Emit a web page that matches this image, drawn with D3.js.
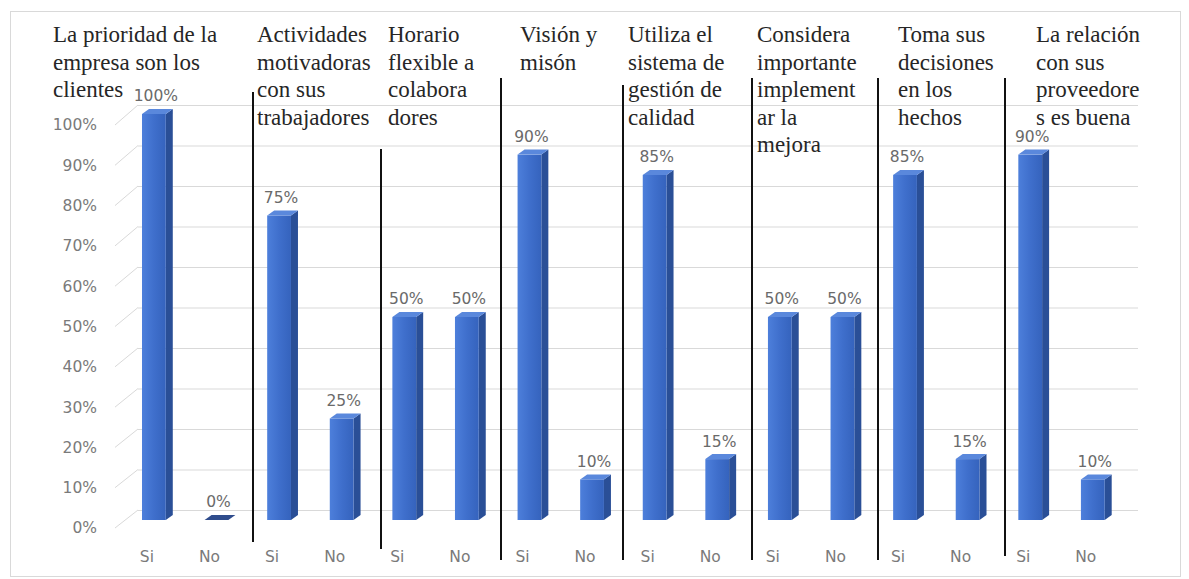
<!DOCTYPE html>
<html>
<head>
<meta charset="utf-8">
<script src="https://cdn.jsdelivr.net/npm/d3@7"></script>
<style>
  html, body { margin: 0; padding: 0; background: #fff; }
  svg { display: block; }
</style>
</head>
<body>
<svg id="chart" width="1189" height="579"></svg>
<script>
// Survey answers per statement (percent of respondents)
const groupTitles = [
  ["La prioridad de la", "empresa son los", "clientes"],
  ["Actividades", "motivadoras", "con sus", "trabajadores"],
  ["Horario", "flexible a", "colabora", "dores"],
  ["Visión y", "misón"],
  ["Utiliza el", "sistema de", "gestión de", "calidad"],
  ["Considera", "importante", "implement", "ar la", "mejora"],
  ["Toma sus", "decisiones", "en los", "hechos"],
  ["La relación", "con sus", "proveedore", "s es buena"]
];
const answers = ["Si", "No"];
const siValues = [100, 75, 50, 90, 85, 50, 85, 90];
const noValues = [0, 25, 50, 10, 15, 50, 15, 10];
const yTickValues = [0, 10, 20, 30, 40, 50, 60, 70, 80, 90, 100];

// Layout of the hand-placed title boxes and divider rules
const titleX = [53, 257, 388, 520, 628, 757, 898, 1036];
const dividers = [
  { x: 253, y1: 92, y2: 542 },
  { x: 381, y1: 149, y2: 549 },
  { x: 501, y1: 78, y2: 560 },
  { x: 623, y1: 85, y2: 560 },
  { x: 752, y1: 78, y2: 560 },
  { x: 878, y1: 78, y2: 560 },
  { x: 1005, y1: 78, y2: 556 }
];

const svg = d3.select("#chart");

// Flatten into one column per answer
const rows = [];
siValues.forEach((v, g) => {
  rows.push({ key: g + "-Si", group: g, answer: answers[0], value: v });
  rows.push({ key: g + "-No", group: g, answer: answers[1], value: noValues[g] });
});

const x = d3.scaleBand()
  .domain(rows.map(d => d.key))
  .range([110.7, 1136])
  .paddingInner(0.62)
  .paddingOuter(0.5);

const yBar = d3.scaleLinear().domain([0, 100]).range([520, 114]);
const yWall = d3.scaleLinear().domain([0, 100]).range([510, 105]);
const yLbl = d3.scaleLinear().domain([0, 100]).range([528, 125]);

const depthX = 7, depthY = 5;
const wallLeft = 138, wallRight = 1138, sideLeft = 115;

// Outer chart frame
svg.append("rect")
  .attr("x", 10.5).attr("y", 11.5)
  .attr("width", 1170).attr("height", 565)
  .attr("fill", "#fff").attr("stroke", "#d9d9d9");

// Back wall gridlines and side-wall diagonals
const grid = svg.append("g").attr("stroke", "#d9d9d9").attr("stroke-width", 1);
grid.selectAll("line.h").data(yTickValues).join("line")
  .attr("class", "h")
  .attr("x1", wallLeft).attr("x2", wallRight)
  .attr("y1", d => yWall(d) + 0.5).attr("y2", d => yWall(d) + 0.5);
grid.selectAll("line.d").data(yTickValues).join("line")
  .attr("class", "d")
  .attr("x1", sideLeft).attr("y1", d => yLbl(d))
  .attr("x2", wallLeft).attr("y2", d => yWall(d));

// Percentage axis labels
const yAxis = d3.axisLeft(yLbl)
  .tickValues(yTickValues)
  .tickFormat(d => d + "%")
  .tickSize(0)
  .tickPadding(0);
const axisG = svg.append("g")
  .attr("transform", "translate(97,0)")
  .call(yAxis);
axisG.select(".domain").remove();
axisG.selectAll("text")
  .attr("font-family", "DejaVu Sans")
  .attr("font-size", 15.5)
  .attr("fill", "#7a7a7a");

// Bar gradients
const defs = svg.append("defs");
const front = defs.append("linearGradient").attr("id", "front")
  .attr("x1", "0").attr("x2", "1").attr("y1", "0").attr("y2", "0");
front.append("stop").attr("offset", "0").attr("stop-color", "#4d7fdb");
front.append("stop").attr("offset", "0.5").attr("stop-color", "#3f6fcc");
front.append("stop").attr("offset", "1").attr("stop-color", "#3563bd");

const bars = svg.append("g").selectAll("g").data(rows).join("g");

bars.each(function (d) {
  const g = d3.select(this);
  const x0 = x(d.key), w = x.bandwidth();
  const top = yBar(d.value), base = yBar(0);
  if (d.value > 0) {
    // right side
    g.append("path")
      .attr("d", `M${x0 + w},${top} L${x0 + w + depthX},${top - depthY} L${x0 + w + depthX},${base - depthY} L${x0 + w},${base} Z`)
      .attr("fill", "#2a4f97");
    // front face
    g.append("rect")
      .attr("x", x0).attr("y", top)
      .attr("width", w).attr("height", base - top)
      .attr("fill", "url(#front)");
  }
  // top face
  g.append("path")
    .attr("d", `M${x0},${top} L${x0 + depthX},${top - depthY} L${x0 + w + depthX},${top - depthY} L${x0 + w},${top} Z`)
    .attr("fill", d.value > 0 ? "#5a88dc" : "#2f4c8c");
});

// Value labels
svg.append("g").selectAll("text").data(rows).join("text")
  .attr("x", d => x(d.key) + x.bandwidth() / 2 + 2)
  .attr("y", d => yBar(d.value) - 18)
  .attr("dy", "0.35em")
  .attr("text-anchor", "middle")
  .attr("font-family", "DejaVu Sans")
  .attr("font-size", 15.5)
  .attr("fill", "#6a6a6a")
  .text(d => d.value + "%");

// Answer labels along the floor
svg.append("g").selectAll("text").data(rows).join("text")
  .attr("x", d => x(d.key) + x.bandwidth() / 2 - 7)
  .attr("y", 557)
  .attr("dy", "0.35em")
  .attr("text-anchor", "middle")
  .attr("font-family", "DejaVu Sans")
  .attr("font-size", 15.5)
  .attr("fill", "#7a7a7a")
  .text(d => d.answer);

// Divider rules between statements
svg.append("g").selectAll("line").data(dividers).join("line")
  .attr("x1", d => d.x).attr("x2", d => d.x)
  .attr("y1", d => d.y1).attr("y2", d => d.y2)
  .attr("stroke", "#111").attr("stroke-width", 2);

// Statement titles
const titles = svg.append("g").selectAll("text").data(groupTitles).join("text")
  .attr("x", (d, i) => titleX[i])
  .attr("y", 42)
  .attr("font-family", "Liberation Serif")
  .attr("font-size", 23)
  .attr("fill", "#262626");
titles.selectAll("tspan").data(d => d).join("tspan")
  .attr("x", function () { return d3.select(this.parentNode).attr("x"); })
  .attr("dy", (d, i) => i === 0 ? 0 : 27.5)
  .text(d => d);
</script>
</body>
</html>
